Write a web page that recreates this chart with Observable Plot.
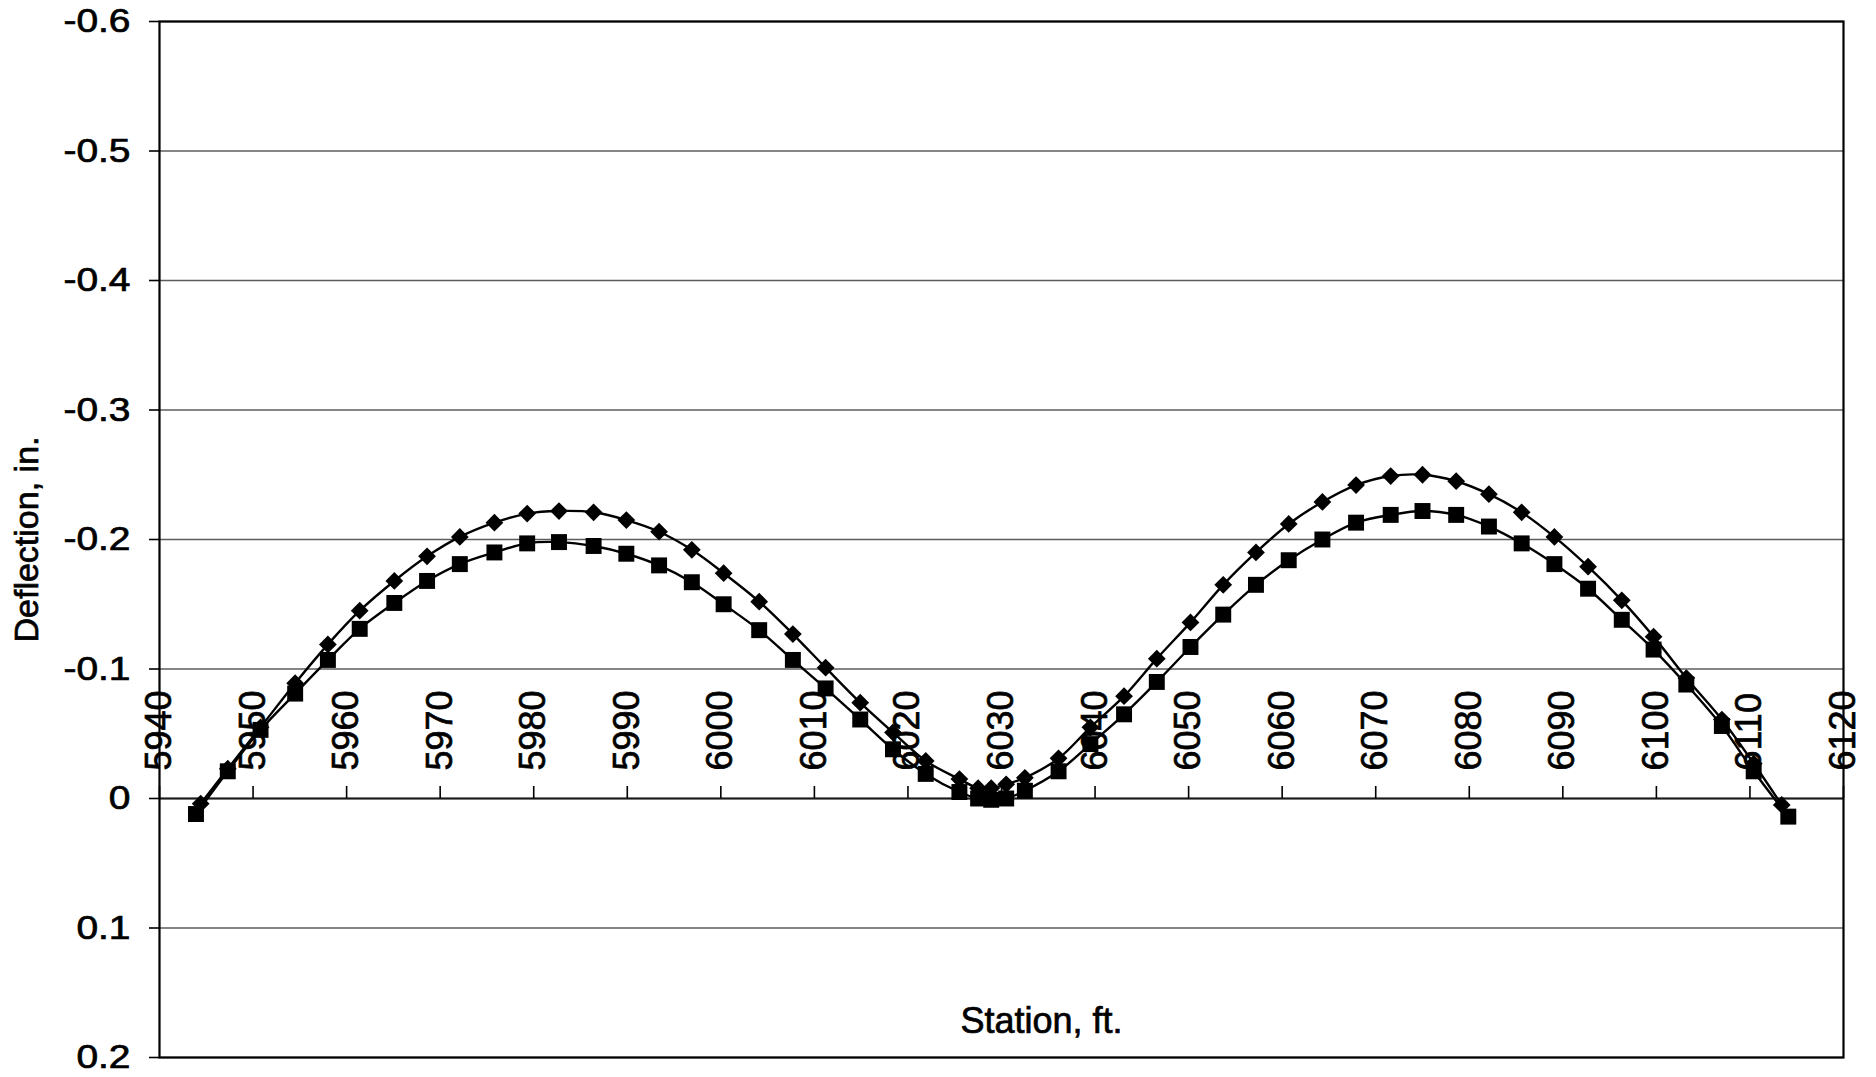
<!DOCTYPE html>
<html>
<head>
<meta charset="utf-8">
<script src="https://cdn.jsdelivr.net/npm/d3@7"></script>
<script src="https://cdn.jsdelivr.net/npm/@observablehq/plot@0.6"></script>
<style>
  html, body { margin: 0; padding: 0; background: #fff; }
  svg { display: block; }
</style>
</head>
<body>
<div id="chart"></div>
<script>
// Station (ft) and deflection (in.) for the two measured runs.
const stationsA = [5944.4, 5947.3, 5950.8, 5954.5, 5958.0, 5961.4, 5965.1, 5968.6, 5972.1, 5975.8,
  5979.3, 5982.7, 5986.4, 5989.9, 5993.4, 5996.9, 6000.3, 6004.1, 6007.7, 6011.2,
  6014.9, 6018.4, 6021.9, 6025.5, 6027.5, 6028.9, 6030.5, 6032.5, 6036.1, 6039.5,
  6043.1, 6046.6, 6050.2, 6053.7, 6057.2, 6060.7, 6064.3, 6067.9, 6071.6, 6075.0,
  6078.6, 6082.1, 6085.6, 6089.1, 6092.7, 6096.3, 6099.7, 6103.2, 6107.0, 6110.4, 6113.4];
const deflectionA = [0.004, -0.023, -0.055, -0.089, -0.119, -0.145, -0.168, -0.187, -0.202, -0.213,
  -0.220, -0.222, -0.221, -0.215, -0.206, -0.192, -0.174, -0.152, -0.127, -0.101,
  -0.074, -0.051, -0.029, -0.015, -0.008, -0.008, -0.011, -0.016, -0.031, -0.055,
  -0.079, -0.108, -0.136, -0.165, -0.190, -0.212, -0.229, -0.242, -0.249, -0.250,
  -0.245, -0.235, -0.221, -0.202, -0.179, -0.153, -0.125, -0.093, -0.061, -0.027, 0.005];

const stationsB = [5943.9, 5947.3, 5950.8, 5954.5, 5958.0, 5961.4, 5965.1, 5968.6, 5972.1, 5975.8,
  5979.3, 5982.7, 5986.4, 5989.9, 5993.4, 5996.9, 6000.3, 6004.1, 6007.7, 6011.2,
  6014.9, 6018.4, 6021.9, 6025.5, 6027.5, 6028.9, 6030.5, 6032.5, 6036.1, 6039.5,
  6043.1, 6046.6, 6050.2, 6053.7, 6057.2, 6060.7, 6064.3, 6067.9, 6071.6, 6075.0,
  6078.6, 6082.1, 6085.6, 6089.1, 6092.7, 6096.3, 6099.7, 6103.2, 6107.0, 6110.4, 6114.1];
const deflectionB = [0.012, -0.021, -0.053, -0.081, -0.107, -0.131, -0.151, -0.168, -0.181, -0.190,
  -0.197, -0.198, -0.195, -0.189, -0.180, -0.167, -0.150, -0.130, -0.107, -0.085,
  -0.061, -0.038, -0.019, -0.005, 0.000, 0.001, 0.000, -0.006, -0.021, -0.042,
  -0.065, -0.090, -0.117, -0.142, -0.165, -0.184, -0.200, -0.213, -0.219, -0.222,
  -0.219, -0.210, -0.197, -0.181, -0.162, -0.138, -0.115, -0.088, -0.056, -0.021, 0.014];

const xTicks = [5940, 5950, 5960, 5970, 5980, 5990, 6000, 6010, 6020, 6030,
  6040, 6050, 6060, 6070, 6080, 6090, 6100, 6110, 6120];
const yTicks = [-0.6, -0.5, -0.4, -0.3, -0.2, -0.1, 0, 0.1, 0.2];

const xLabel = "Station, ft.";
const yLabel = "Deflection, in.";

const seriesA = stationsA.map((s, i) => ({station: s, deflection: deflectionA[i]}));
const seriesB = stationsB.map((s, i) => ({station: s, deflection: deflectionB[i]}));

const fmt = d => String(+(+d).toFixed(1));
const font = "'Liberation Sans', Arial, Helvetica, sans-serif";

const chart = Plot.plot({
  width: 1876,
  height: 1077,
  marginLeft: 159,
  marginRight: 33,
  marginTop: 21,
  marginBottom: 20,
  style: {background: "#fff", fontFamily: font, color: "#000", overflow: "visible"},
  x: {domain: [5940, 6120], axis: null},
  y: {domain: [-0.6, 0.2], reverse: true, axis: null},
  marks: [
    // horizontal gridlines
    Plot.ruleY(yTicks, {stroke: "#5c5c5c", strokeWidth: 1.6}),
    Plot.ruleY([0], {stroke: "#1a1a1a", strokeWidth: 2}),
    // y axis with outward ticks
    Plot.axisY(yTicks, {
      anchor: "left",
      tickSize: 10,
      tickPadding: 19,
      tickFormat: fmt,
      fontSize: 33,
      strokeWidth: 1.6,
      label: null
    }),
    // station labels sit on the zero line, rotated
    Plot.text(xTicks, {
      x: d => d,
      y: () => 0,
      text: d => String(d),
      rotate: -90,
      textAnchor: "start",
      lineAnchor: "middle",
      dy: -28,
      fontSize: 36,
      fill: "#000"
    }),
    // station tick marks rising from the zero line
    Plot.ruleX(xTicks, {
      x: d => d,
      y1: () => 0,
      y2: () => 0,
      insetBottom: 12,
      stroke: "#000",
      strokeWidth: 1.6
    }),
    Plot.text([yLabel], {
      frameAnchor: "left",
      dx: -132,
      rotate: -90,
      textAnchor: "middle",
      lineAnchor: "middle",
      fontSize: 34,
      fill: "#000"
    }),
    Plot.text([xLabel], {
      frameAnchor: "bottom",
      dx: 40,
      dy: -36,
      textAnchor: "middle",
      lineAnchor: "middle",
      fontSize: 36,
      fill: "#000"
    }),
    Plot.frame({stroke: "#000", strokeWidth: 2.2}),
    // smoothed deflection lines
    Plot.line(seriesA, {x: "station", y: "deflection", curve: "catmull-rom", stroke: "#000", strokeWidth: 2.4}),
    Plot.line(seriesB, {x: "station", y: "deflection", curve: "catmull-rom", stroke: "#000", strokeWidth: 2.4}),
    Plot.dot(seriesA, {x: "station", y: "deflection", symbol: "diamond2", r: 8, fill: "#000", stroke: "none"}),
    Plot.dot(seriesB, {x: "station", y: "deflection", symbol: "square", r: 9, fill: "#000", stroke: "none"})
  ]
});

// Heavier, slightly wide lettering for all labels.
d3.select(chart).selectAll("text")
  .attr("stroke", "#000")
  .attr("stroke-width", 0.7)
  .attr("paint-order", "stroke");

// Widen the y tick labels about their right-hand anchor.
d3.select(chart).selectAll('g[aria-label="y-axis tick label"] text')
  .attr("transform", function() {
    const t = this.getAttribute("transform") || "";
    return t + " scale(1.18,1)";
  });

document.getElementById("chart").appendChild(chart);
</script>
</body>
</html>
